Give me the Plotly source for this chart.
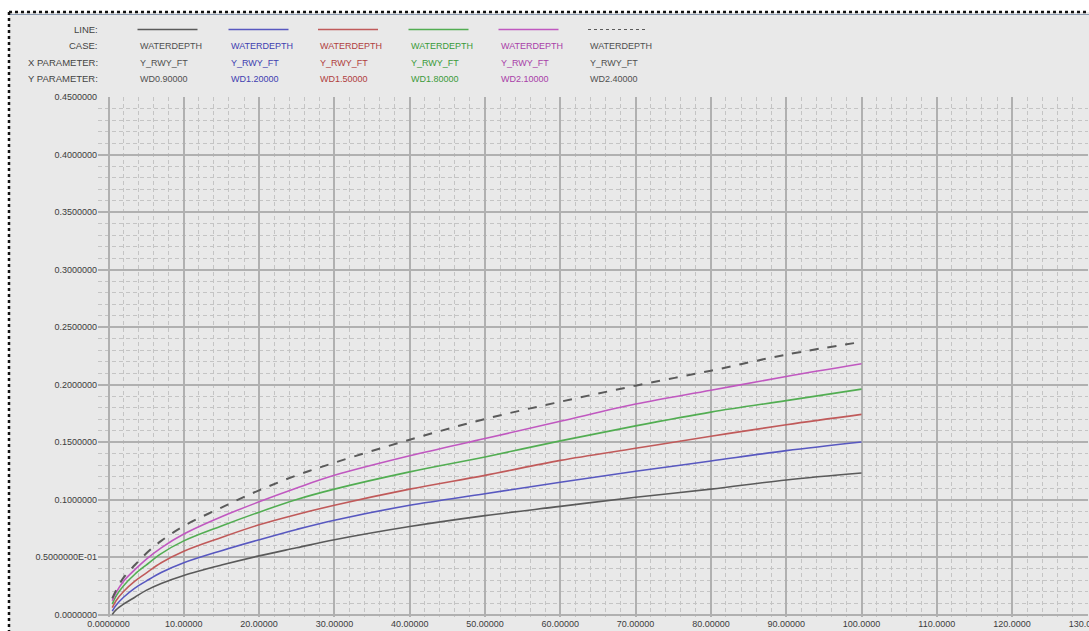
import plotly.graph_objects as go

# ---------------- data ----------------
x_vals = [0.5, 1, 2, 3.5, 5, 7, 10, 15, 20, 25, 30, 40, 50, 60, 70, 80, 90, 100]
wd090 = [0.000, 0.004, 0.009, 0.015, 0.021, 0.027, 0.034, 0.043, 0.051, 0.058, 0.065,
         0.0765, 0.086, 0.094, 0.102, 0.109, 0.117, 0.123]
wd120 = [0.003, 0.008, 0.015, 0.023, 0.029, 0.0365, 0.045, 0.0555, 0.065, 0.074, 0.082,
         0.095, 0.105, 0.115, 0.1245, 0.1335, 0.1425, 0.150]
wd150 = [0.006, 0.012, 0.020, 0.029, 0.036, 0.045, 0.055, 0.067, 0.078, 0.087, 0.095,
         0.109, 0.121, 0.134, 0.1445, 0.155, 0.165, 0.174]
wd180 = [0.009, 0.016, 0.025, 0.035, 0.043, 0.053, 0.064, 0.077, 0.089, 0.100, 0.109,
         0.124, 0.137, 0.151, 0.164, 0.176, 0.186, 0.196]
wd210 = [0.012, 0.019, 0.029, 0.039, 0.048, 0.058, 0.070, 0.085, 0.098, 0.110, 0.121,
         0.138, 0.153, 0.168, 0.183, 0.195, 0.207, 0.218]
wd240 = [0.014, 0.021, 0.032, 0.043, 0.053, 0.064, 0.077, 0.093, 0.108, 0.121, 0.132,
         0.152, 0.170, 0.185, 0.199, 0.212, 0.226, 0.237]

series = [wd090, wd120, wd150, wd180, wd210, wd240]
case_names = ["WATERDEPTH"] * 6
x_params = ["Y_RWY_FT"] * 6
y_params = ["WD0.90000", "WD1.20000", "WD1.50000", "WD1.80000", "WD2.10000", "WD2.40000"]
colors = ["#5a5a5a", "#5858c0", "#c05a5a", "#52ad52", "#c058c0", "#5a5a5a"]
text_colors = ["#505050", "#4040b0", "#b04040", "#3a9a3a", "#a840a8", "#505050"]
dashes = ["solid", "solid", "solid", "solid", "solid", "dash"]

x_tickvals = [0, 10, 20, 30, 40, 50, 60, 70, 80, 90, 100, 110, 120, 130]
x_ticktext = ["0.0000000", "10.00000", "20.00000", "30.00000", "40.00000", "50.00000",
              "60.00000", "70.00000", "80.00000", "90.00000", "100.0000", "110.0000",
              "120.0000", "130.0000"]
y_tickvals = [0, 0.05, 0.10, 0.15, 0.20, 0.25, 0.30, 0.35, 0.40, 0.45]
y_ticktext = ["0.0000000", "0.5000000E-01", "0.1000000", "0.1500000", "0.2000000",
              "0.2500000", "0.3000000", "0.3500000", "0.4000000", "0.4500000"]
row_labels = ["LINE:", "CASE:", "X PARAMETER:", "Y PARAMETER:"]

# ---------------- layout geometry ----------------
W, H = 1089, 631
L, R, T, B = 98, 1, 97, 14
PW, PH = W - L - R, H - T - B
FONT = "Liberation Sans Narrow, Arial Narrow, Liberation Sans, Arial, sans-serif"

def px_x(px):
    return (px - L) / PW

def px_y(py):
    return (H - B - py) / PH

fig = go.Figure()
for ys, c, d, name in zip(series, colors, dashes, y_params):
    fig.add_trace(go.Scatter(
        x=x_vals, y=ys, mode="lines", name=name,
        line=dict(color=c, width=2 if d == "dash" else 1.6, dash=d, shape="spline", smoothing=1.0),
        showlegend=False,
    ))

shapes = []
annotations = []
# outer border (dotted, top and left)
shapes.append(dict(type="rect", xref="paper", yref="paper", x0=px_x(9), x1=px_x(W + 5),
                   y0=px_y(H + 5), y1=px_y(12), fillcolor="#e9e9e9", line=dict(width=0), layer="below"))
shapes.append(dict(type="line", xref="paper", yref="paper", x0=px_x(9), x1=px_x(W),
                   y0=px_y(12), y1=px_y(12), line=dict(color="#111111", width=2.5, dash="dot")))
shapes.append(dict(type="line", xref="paper", yref="paper", x0=px_x(9), x1=px_x(W),
                   y0=px_y(14.5), y1=px_y(14.5), line=dict(color="#8a9ab0", width=1)))
shapes.append(dict(type="line", xref="paper", yref="paper", x0=px_x(9), x1=px_x(9),
                   y0=px_y(12), y1=px_y(H), line=dict(color="#111111", width=2.5, dash="dot")))

# header table
row_y = [29.5, 46, 62.5, 79]
for lbl, ry in zip(row_labels, row_y):
    annotations.append(dict(xref="paper", yref="paper", x=px_x(100), y=px_y(ry), text=lbl,
                            showarrow=False, xanchor="right", yanchor="middle",
                            font=dict(family=FONT, size=9.5, color="#444444")))
col_x = [137.5, 228.5, 318, 408.5, 498.5, 588]
for i, cx in enumerate(col_x):
    shapes.append(dict(type="line", xref="paper", yref="paper", x0=px_x(cx), x1=px_x(cx + 60),
                       y0=px_y(row_y[0]), y1=px_y(row_y[0]),
                       line=dict(color=colors[i], width=1.6 if dashes[i] == "solid" else 1.2,
                                 dash="solid" if dashes[i] == "solid" else "dot")))
    for txt, ry in zip([case_names[i], x_params[i], y_params[i]], row_y[1:]):
        annotations.append(dict(xref="paper", yref="paper", x=px_x(cx), y=px_y(ry), text=txt,
                                showarrow=False, xanchor="left", yanchor="middle",
                                font=dict(family=FONT, size=9, color=text_colors[i])))

x0_px = 108.5
x_scale = 7.53
y0_px = 614.5
y_scale = 1150

fig.update_layout(
    width=W, height=H,
    margin=dict(l=L, r=R, t=T, b=B, autoexpand=False),
    paper_bgcolor="white",
    plot_bgcolor="#e9e9e9",
    shapes=shapes,
    annotations=annotations,
    showlegend=False,
    xaxis=dict(
        range=[(L - x0_px) / x_scale, (W - R - x0_px) / x_scale],
        tickmode="array", tickvals=x_tickvals, ticktext=x_ticktext,
        showgrid=True, gridcolor="#b0b0b0", gridwidth=1.5,
        zeroline=False, showline=False, ticks="",
        ticklabeloverflow="allow",
        tickfont=dict(family=FONT, size=9, color="#3c3c3c"),
        minor=dict(tickmode="array", tickvals=[v for v in range(2, 131, 2) if v % 10],
                   showgrid=True, gridcolor="#c4c4c4", gridwidth=1, griddash="4px,3px"),
        automargin=False,
    ),
    yaxis=dict(
        range=[(y0_px - (H - B)) / y_scale, 0.45],
        tickmode="array", tickvals=y_tickvals, ticktext=y_ticktext,
        showgrid=True, gridcolor="#b0b0b0", gridwidth=1.5,
        zeroline=False, showline=False, ticks="",
        tickfont=dict(family=FONT, size=9, color="#3c3c3c"),
        minor=dict(tickmode="array",
                   tickvals=[k / 100 for k in range(1, 46) if k % 5],
                   showgrid=True, gridcolor="#c4c4c4", gridwidth=1, griddash="4px,3px"),
        automargin=False,
    ),
)

fig.write_html("out.html")
